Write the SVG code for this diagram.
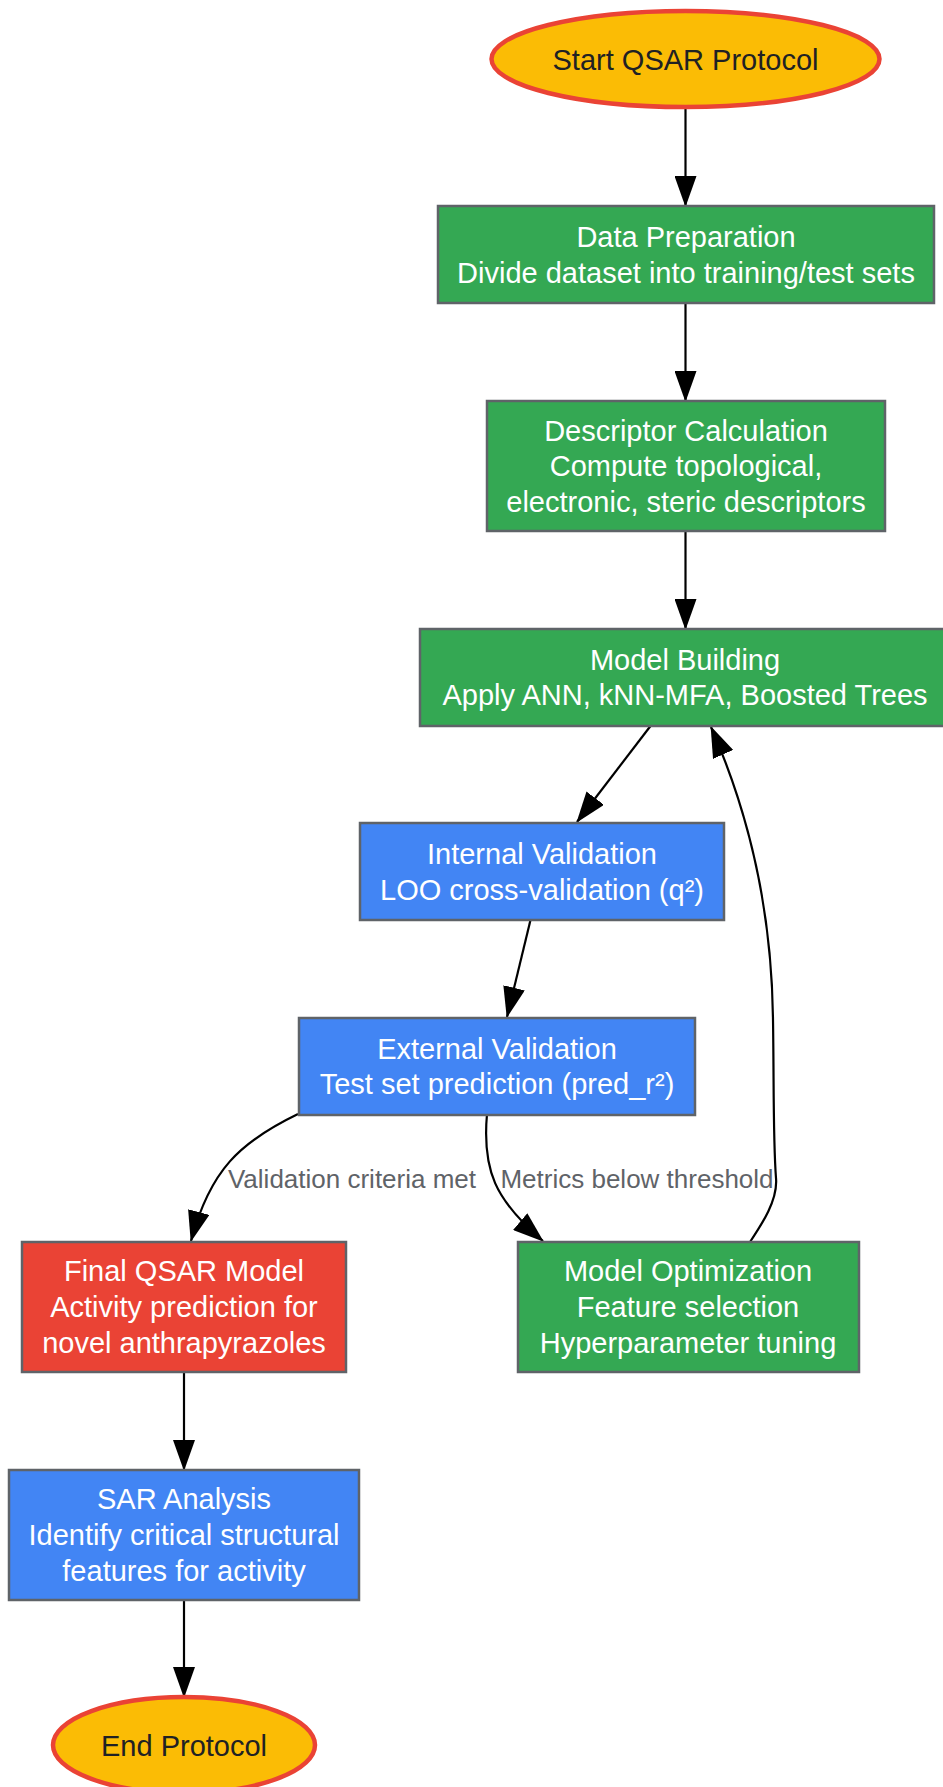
<svg xmlns="http://www.w3.org/2000/svg" width="943" height="1787" viewBox="0 0 943 1787">
<style>
text{font-family:"Liberation Sans",Arial,sans-serif;font-size:29px;text-anchor:middle}
.g{fill:#34A853}.b{fill:#4285F4}.r{fill:#EA4335}
.box{stroke:#5f6368;stroke-width:2.5}
.w{fill:#ffffff}
.oval{fill:#FBBC05;stroke:#EA4335;stroke-width:4.5}
.dk{fill:#202124}
.e{fill:none;stroke:#000;stroke-width:2.2;marker-end:url(#ah)}
.lbl{font-size:26px;fill:#5f6368}
</style>
<defs>
<marker id="ah" markerUnits="userSpaceOnUse" markerWidth="31" markerHeight="22" refX="30" refY="11" orient="auto">
<path d="M0,0 L31,11 L0,22 z" fill="#000"/>
</marker>
</defs>
<g id="connectors">
<path class="e" d="M685.5,108 L685.5,206"/>
<path class="e" d="M685.5,303 L685.5,401"/>
<path class="e" d="M685.5,531 L685.5,629"/>
<path class="e" d="M650.5,726 L577,822"/>
<path class="e" d="M530.5,920 L507,1017"/>
<path class="e" d="M298,1114 C240,1142 210,1170 191,1241"/>
<path class="e" d="M487,1114 C482,1170 495,1200 543,1241"/>
<path class="e" d="M750,1242 C762,1224 778,1200 776,1178 C773,1140 774,1080 773,1020 C772,920 752,820 711,727"/>
<path class="e" d="M184,1372 L184,1470"/>
<path class="e" d="M184,1600 L184,1697"/>
<text class="lbl" x="352" y="1188">Validation criteria met</text>
<text class="lbl" x="637" y="1188">Metrics below threshold</text>
</g>
<g id="start">
<ellipse class="oval" cx="685.5" cy="59" rx="194" ry="48"/>
<text class="dk" x="685.5" y="70">Start QSAR Protocol</text>
</g>
<g id="dataprep">
<rect class="box g" x="438" y="206" width="496" height="97"/>
<text class="w" x="686" y="247">Data Preparation</text>
<text class="w" x="686" y="282.6">Divide dataset into training/test sets</text>
</g>
<g id="descriptor">
<rect class="box g" x="487" y="401" width="398" height="130"/>
<text class="w" x="686" y="440.5">Descriptor Calculation</text>
<text class="w" x="686" y="476.3">Compute topological,</text>
<text class="w" x="686" y="512">electronic, steric descriptors</text>
</g>
<g id="modelbuilding">
<rect class="box g" x="420" y="629" width="530" height="97"/>
<text class="w" x="685" y="669.6">Model Building</text>
<text class="w" x="685" y="705.2">Apply ANN, kNN-MFA, Boosted Trees</text>
</g>
<g id="internal">
<rect class="box b" x="360" y="823" width="364" height="97"/>
<text class="w" x="542" y="864">Internal Validation</text>
<text class="w" x="542" y="899.6">LOO cross-validation (q²)</text>
</g>
<g id="external">
<rect class="box b" x="299" y="1018" width="396" height="97"/>
<text class="w" x="497" y="1058.6">External Validation</text>
<text class="w" x="497" y="1094.2">Test set prediction (pred_r²)</text>
</g>
<g id="final">
<rect class="box r" x="22" y="1242" width="324" height="130"/>
<text class="w" x="184" y="1281">Final QSAR Model</text>
<text class="w" x="184" y="1317">Activity prediction for</text>
<text class="w" x="184" y="1353">novel anthrapyrazoles</text>
</g>
<g id="optimization">
<rect class="box g" x="518" y="1242" width="341" height="130"/>
<text class="w" x="688" y="1281">Model Optimization</text>
<text class="w" x="688" y="1317">Feature selection</text>
<text class="w" x="688" y="1353">Hyperparameter tuning</text>
</g>
<g id="sar">
<rect class="box b" x="9" y="1470" width="350" height="130"/>
<text class="w" x="184" y="1509">SAR Analysis</text>
<text class="w" x="184" y="1545">Identify critical structural</text>
<text class="w" x="184" y="1581">features for activity</text>
</g>
<g id="end">
<ellipse class="oval" cx="184" cy="1745" rx="131" ry="48"/>
<text class="dk" x="184" y="1755.5">End Protocol</text>
</g>
</svg>
